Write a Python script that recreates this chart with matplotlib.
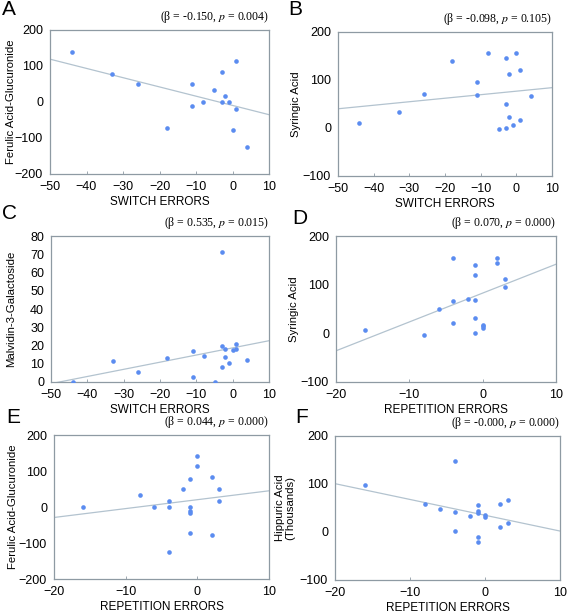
import matplotlib
matplotlib.use("Agg")
import matplotlib.pyplot as plt
import numpy as np

plt.rcParams['font.family'] = ['Liberation Sans', 'DejaVu Sans']
plt.rcParams['mathtext.fontset'] = 'stix'

# ---------------- data ----------------
a_x = [-44, -33, -26, -18, -11, -11, -8, -5, -3, -3, -2, -1, 1, 1, 0, 4]
a_y = [140, 77, 50, -73, 49, -12, 0, 34, 82, 0, 16, 0, 114, -19, -79, -125]
a_fit = (-2.57, -9.5)

b_x = [-44, -33, -26, -18, -11, -11, -8, -5, -3, -3, -3, -2, -2, -1, 0, 1, 1, 4]
b_y = [11, 33, 70, 140, 96, 69, 156, -3, 146, 49, 0, 112, 22, 6, 156, 121, 17, 67]
b_fit = (0.733, 76.7)

c_x = [-44, -33, -26, -18, -11, -11, -8, -5, -3, -3, -3, -2, -2, -1, 0, 1, 1, 4]
c_y = [0, 11.5, 5.7, 13, 16.8, 2.9, 14, 0, 71.4, 19.7, 8.4, 18, 13.9, 10.6, 17.7, 20.6, 18.3, 12.2]
c_fit = (0.392, 18.7)

d_x = [-16, -8, -6, -4, -4, -4, -2, -1, -1, -1, -1, -1, 0, 0, 0, 2, 2, 3, 3]
d_y = [6, -3, 49, 155, 66, 21, 70, 140, 120, 69, 32, 0, 17, 15, 11, 155, 145, 112, 95]
d_fit = (5.93, 82.7)

e_x = [-16, -8, -6, -4, -4, -4, -2, -1, -1, -1, -1, -1, 0, 0, 2, 2, 3, 3]
e_y = [0, 34, 0, 17, 0, -124, 51, 77, 0, -12, -18, -72, 141, 114, 82, -79, 49, 17]
e_fit = (2.47, 20.3)

f_x = [-16, -8, -6, -4, -4, -4, -2, -1, -1, -1, -1, -1, 0, 0, 2, 2, 3, 3]
f_y = [97, 58, 47, 147, 42, 3, 33, 56, 44, 40, -10, -20, 35, 31, 59, 11, 67, 19]
f_fit = (-3.29, 34.9)

panels = [
    dict(letter='A', x=a_x, y=a_y, fit=a_fit, xlim=(-50, 10), ylim=(-200, 200),
         yticks=[-200, -100, 0, 100, 200], xticks=[-50, -40, -30, -20, -10, 0, 10],
         xlabel='SWITCH ERRORS', ylabel='Ferulic Acid-Glucuronide',
         stat='(β = -0.150, $p$ = 0.004)', rect=(50, 30, 269, 174), lpos=(2, 0), ylx=16),
    dict(letter='B', x=b_x, y=b_y, fit=b_fit, xlim=(-50, 10), ylim=(-100, 200),
         yticks=[-100, 0, 100, 200], xticks=[-50, -40, -30, -20, -10, 0, 10],
         xlabel='SWITCH ERRORS', ylabel='Syringic Acid',
         stat='(β = -0.098, $p$ = 0.105)', rect=(338, 32, 552, 176), lpos=(288, 0), ylx=301),
    dict(letter='C', x=c_x, y=c_y, fit=c_fit, xlim=(-50, 10), ylim=(0, 80),
         yticks=[0, 10, 20, 30, 40, 50, 60, 70, 80], xticks=[-50, -40, -30, -20, -10, 0, 10],
         xlabel='SWITCH ERRORS', ylabel='Malvidin-3-Galactoside',
         stat='(β = 0.535, $p$ = 0.015)', rect=(51, 236, 269, 382), lpos=(2, 204), ylx=16),
    dict(letter='D', x=d_x, y=d_y, fit=d_fit, xlim=(-20, 10), ylim=(-100, 200),
         yticks=[-100, 0, 100, 200], xticks=[-20, -10, 0, 10],
         xlabel='REPETITION ERRORS', ylabel='Syringic Acid',
         stat='(β = 0.070, $p$ = 0.000)', rect=(336, 236, 556, 382), lpos=(292, 209), ylx=299),
    dict(letter='E', x=e_x, y=e_y, fit=e_fit, xlim=(-20, 10), ylim=(-200, 200),
         yticks=[-200, -100, 0, 100, 200], xticks=[-20, -10, 0, 10],
         xlabel='REPETITION ERRORS', ylabel='Ferulic Acid-Glucuronide',
         stat='(β = 0.044, $p$ = 0.000)', rect=(54, 435, 269, 579), lpos=(6, 408), ylx=18),
    dict(letter='F', x=f_x, y=f_y, fit=f_fit, xlim=(-20, 10), ylim=(-100, 200),
         yticks=[-100, 0, 100, 200], xticks=[-20, -10, 0, 10],
         xlabel='REPETITION ERRORS', ylabel='Hippuric Acid\n(Thousands)',
         stat='(β = -0.000, $p$ = 0.000)', rect=(335, 436, 560, 580), lpos=(295, 408), ylx=295),
]

W, H = 567, 613
fig = plt.figure(figsize=(W / 100, H / 100), dpi=100)

dot_color = '#5b8cf0'
line_color = '#b3c3cf'
spine_color = '#8e9aa3'

for p in panels:
    l, t, r, b = p['rect']
    ax = fig.add_axes([l / W, 1 - b / H, (r - l) / W, (b - t) / H])
    ax.scatter(p['x'], p['y'], s=11, color=dot_color, zorder=3, linewidths=0)
    xs = np.array(p['xlim'], dtype=float)
    m, c0 = p['fit']
    ax.plot(xs, m * xs + c0, color=line_color, lw=0.9, zorder=2)
    ax.set_xlim(*p['xlim'])
    ax.set_ylim(*p['ylim'])
    ax.set_xticks(p['xticks'])
    ax.set_yticks(p['yticks'])
    for s in ax.spines.values():
        s.set_color(spine_color)
        s.set_linewidth(0.9)
    ax.tick_params(axis='x', direction='in', length=2.5, width=0.6, color=spine_color,
                   labelsize=9, pad=5)
    ax.tick_params(axis='y', length=0, labelsize=9, pad=5)
    ax.set_xlabel(p['xlabel'], fontsize=8.5, labelpad=2)
    ax.set_ylabel(p['ylabel'], fontsize=8.2, linespacing=0.95)
    ax.yaxis.set_label_coords((p['ylx'] - l) / (r - l), 0.5)
    ax.text(1.0, 1.035, p['stat'], transform=ax.transAxes, ha='right', va='bottom',
            fontsize=8.5, family='Liberation Serif')
    lx, ly = p['lpos']
    fig.text(lx / W, 1 - ly / H, p['letter'], ha='left', va='top', fontsize=15)

fig.savefig('out.png', dpi=100)
